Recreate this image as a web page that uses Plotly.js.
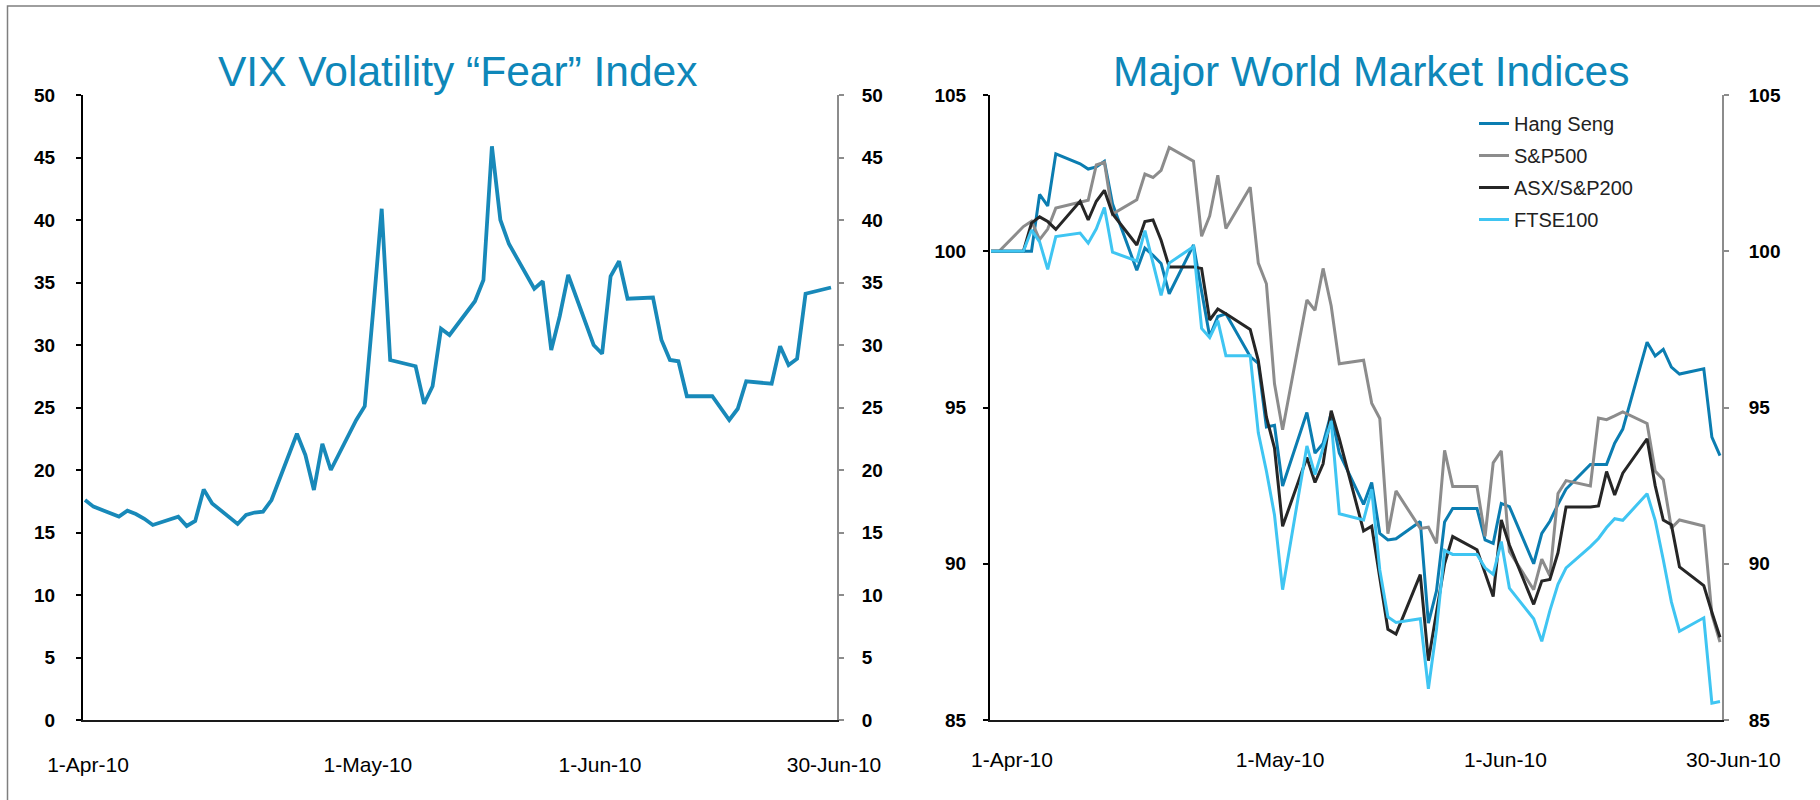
<!DOCTYPE html>
<html>
<head>
<meta charset="utf-8">
<script src="https://cdn.plot.ly/plotly-3.0.1.min.js"></script>
<style>
  html, body { margin: 0; padding: 0; background: #ffffff; }
  #chart { width: 1820px; height: 800px; }
</style>
</head>
<body>
<div id="chart"></div>
<script>
// ---------- DATA ----------
// Trading-day grid of the VIX panel (63 points)
const vixDates = [
  '2010-04-01','2010-04-02','2010-04-05','2010-04-06','2010-04-07','2010-04-08','2010-04-09',
  '2010-04-12','2010-04-13','2010-04-14','2010-04-15','2010-04-16','2010-04-19','2010-04-20',
  '2010-04-21','2010-04-22','2010-04-23','2010-04-26','2010-04-27','2010-04-28','2010-04-29',
  '2010-04-30','2010-05-03','2010-05-04','2010-05-05','2010-05-06','2010-05-07','2010-05-10',
  '2010-05-11','2010-05-12','2010-05-13','2010-05-14','2010-05-17','2010-05-18','2010-05-19',
  '2010-05-20','2010-05-21','2010-05-24','2010-05-25','2010-05-26','2010-05-27','2010-05-28',
  '2010-05-31','2010-06-01','2010-06-02','2010-06-03','2010-06-04','2010-06-07','2010-06-08',
  '2010-06-09','2010-06-10','2010-06-11','2010-06-14','2010-06-15','2010-06-16','2010-06-17',
  '2010-06-18','2010-06-21','2010-06-22','2010-06-23','2010-06-24','2010-06-25','2010-06-28'
];
const vixValues = [
  17.6, 17.07, 16.27, 16.75, 16.48, 16.1, 15.6, 16.27, 15.52, 15.92, 18.45, 17.33, 15.68, 16.4,
  16.6, 16.67, 17.6, 22.9, 21.2, 18.4, 22.1, 20.0, 24.0, 25.1, 32.8, 40.9, 28.8, 28.3,
  25.3, 26.7, 31.3, 30.8, 33.5, 35.2, 45.9, 40.0, 38.1, 34.5, 35.1, 29.6, 32.3, 35.6,
  30.0, 29.3, 35.5, 36.7, 33.7, 33.8, 30.4, 28.8, 28.7, 25.9, 25.9, 25.0, 24.0, 24.9,
  27.1, 26.9, 29.9, 28.4, 28.9, 34.1, 34.6
];

// Weekday grid of the market panel (65 points)
const marketDates = [
  '2010-04-01','2010-04-02','2010-04-05','2010-04-06','2010-04-07','2010-04-08','2010-04-09',
  '2010-04-12','2010-04-13','2010-04-14','2010-04-15','2010-04-16','2010-04-19','2010-04-20',
  '2010-04-21','2010-04-22','2010-04-23','2010-04-26','2010-04-27','2010-04-28','2010-04-29',
  '2010-04-30',
  '2010-05-03','2010-05-04','2010-05-05','2010-05-06','2010-05-07','2010-05-10','2010-05-11',
  '2010-05-12','2010-05-13','2010-05-14','2010-05-17','2010-05-18','2010-05-19','2010-05-20',
  '2010-05-21','2010-05-24','2010-05-25','2010-05-26','2010-05-27','2010-05-28','2010-05-31',
  '2010-06-01','2010-06-02','2010-06-03','2010-06-04','2010-06-07','2010-06-08','2010-06-09',
  '2010-06-10','2010-06-11','2010-06-14','2010-06-15','2010-06-16','2010-06-17','2010-06-18',
  '2010-06-21','2010-06-22','2010-06-23','2010-06-24','2010-06-25','2010-06-28','2010-06-29',
  '2010-06-30'
];
const hangSeng = [
  100, 100, 100, 100, 101.82, 101.45, 103.12, 102.8, 102.63, 102.7, 102.88, 101.52, 99.39, 100.1,
  99.87, 99.61, 98.64, 100.2, 98.72, 97.27, 97.91, 98.0,
  96.63, 96.41, 94.38, 94.43, 92.49, 94.84, 93.54, 93.85, 94.82, 93.54, 91.9, 92.6, 90.97, 90.76,
  90.8, 91.35, 88.1, 89.13, 91.34, 91.77, 91.77,
  90.76, 90.65, 91.93, 91.83, 90.0, 90.97, 91.36, 91.9, 92.39, 93.18, 93.18, 93.18, 93.86, 94.31,
  97.09, 96.65, 96.86, 96.29, 96.07, 96.24, 94.05, 93.46
];
const sp500 = [
  100, 100, 100.79, 100.96, 100.37, 100.71, 101.38, 101.56, 101.63, 102.76, 102.85, 101.19, 101.65, 102.47,
  102.36, 102.59, 103.32, 102.88, 100.48, 101.13, 102.43, 100.73,
  102.05, 99.62, 98.96, 95.76, 94.29, 98.44, 98.11, 99.45, 98.25, 96.40, 96.51, 95.14, 94.65, 90.96,
  92.33, 91.13, 91.17, 90.65, 93.63, 92.47, 92.47,
  90.88, 93.23, 93.61, 90.39, 89.17, 90.15, 89.61, 92.25, 92.66, 92.49, 94.66, 94.61, 94.73, 94.86,
  94.49, 92.97, 92.69, 91.14, 91.40, 91.21, 88.38, 87.49
];
const asx200 = [
  100, 100, 100, 100.9, 101.1, 100.95, 100.7, 101.6, 101.0, 101.6, 101.95, 101.2, 100.2, 100.95,
  101.0, 100.35, 99.5, 99.5, 99.45, 97.8, 98.15, 98.0,
  97.5, 96.5, 94.7, 93.7, 91.2, 93.4, 92.6, 93.2, 94.9, 94.0, 91.05, 91.2, 89.6, 87.9,
  87.75, 89.65, 86.9, 88.4, 90.0, 90.87, 90.45,
  89.7, 88.95, 91.4, 90.6, 88.7, 89.45, 89.5, 90.35, 91.82, 91.82, 91.85, 92.95, 92.2, 92.9,
  94.0, 92.5, 91.4, 91.25, 89.9, 89.3, 88.45, 87.65
];
const ftse100 = [
  100, 100, 100, 100.68, 100.3, 99.42, 100.47, 100.58, 100.26, 100.72, 101.4, 99.97, 99.69, 100.66,
  99.62, 98.59, 99.62, 100.15, 97.53, 97.24, 97.78, 96.66,
  96.66, 94.19, 92.97, 91.56, 89.17, 93.77, 92.85, 93.7, 94.57, 91.6, 91.4, 92.38, 89.8, 88.3,
  88.12, 88.24, 86.0, 87.9, 90.43, 90.3, 90.3,
  89.87, 89.66, 90.71, 89.22, 88.24, 87.52, 88.5, 89.34, 89.87, 90.55, 90.81, 91.16, 91.44, 91.39,
  92.24, 91.39, 90.13, 88.78, 87.84, 88.27, 85.54, 85.59
];

const seriesNames = ['Hang Seng', 'S&P500', 'ASX/S&P200', 'FTSE100'];
const titles = ['VIX Volatility \u201cFear\u201d Index', 'Major World Market Indices'];
const xTickLabels = ['1-Apr-10', '1-May-10', '1-Jun-10', '30-Jun-10'];
const vixTickAt = ['2010-04-01 08:30', '2010-05-04 09:00', '2010-05-31 18:00', '2010-06-28 08:30'];
const mktTickAt = ['2010-04-03 14:00', '2010-05-06 16:00', '2010-06-03 11:00', '2010-07-01 14:00'];
const vixTicks = [0, 5, 10, 15, 20, 25, 30, 35, 40, 45, 50];
const mktTicks = [85, 90, 95, 100, 105];

// ---------- STYLE ----------
const FONT = 'Liberation Sans, Arial, Helvetica, sans-serif';
const TITLE_BLUE = '#0e87b9';
const colors = {
  vix: '#1889b9', hs: '#0b7db1', sp: '#8c8c8c', asx: '#262626', ftse: '#3fc5f2'
};
const W = 1820, H = 800;
const px = v => v / W;
const py = v => (H - v) / H;

const yDomain = [py(720), py(95)];
const leftDomain = [px(83), px(837)];
const rightDomain = [px(990), px(1722)];
const rightLabelDomain = [px(990), px(1750)];

const yTickFont = { family: FONT, size: 19, color: '#000', weight: 'bold' };
const xTickFont = { family: FONT, size: 21, color: '#000' };

function yLeft(range, vals, anchor, standoff) {
  return {
    domain: yDomain, range: range, tickmode: 'array', tickvals: vals,
    ticks: 'outside', ticklen: 5, tickwidth: 2, tickcolor: '#000',
    showline: true, linecolor: '#000', linewidth: 2,
    showgrid: false, zeroline: false, tickfont: yTickFont,
    anchor: anchor, side: 'left', ticklabelstandoff: standoff, fixedrange: true
  };
}
function yRight(range, vals, anchor, overlay, standoff) {
  return {
    domain: yDomain, range: range, tickmode: 'array', tickvals: vals,
    ticks: 'outside', ticklen: 5, tickwidth: 2, tickcolor: '#8c8c8c',
    showline: true, linecolor: '#8c8c8c', linewidth: 2,
    showgrid: false, zeroline: false, tickfont: yTickFont,
    anchor: anchor, side: 'right', overlaying: overlay, ticklabelstandoff: standoff, fixedrange: true
  };
}
function xAxis(domain, range, tickAt, anchor, showLine, showLabels) {
  return {
    type: 'date', domain: domain, range: range, anchor: anchor,
    tickmode: 'array', tickvals: tickAt, ticktext: xTickLabels,
    ticks: '', showline: showLine, linecolor: '#1a1a1a', linewidth: 2,
    showticklabels: showLabels,
    showgrid: false, zeroline: false, tickfont: xTickFont,
    ticklabelstandoff: 25, fixedrange: true
  };
}

const traces = [
  { x: vixDates, y: vixValues, type: 'scatter', mode: 'lines', name: 'VIX',
    xaxis: 'x', yaxis: 'y', showlegend: false,
    line: { color: colors.vix, width: 3.8 } },
  { x: marketDates, y: hangSeng, type: 'scatter', mode: 'lines', name: seriesNames[0],
    xaxis: 'x2', yaxis: 'y2', legendgroup: 'g1', line: { color: colors.hs, width: 3 } },
  { x: marketDates, y: sp500, type: 'scatter', mode: 'lines', name: seriesNames[1],
    xaxis: 'x2', yaxis: 'y2', legendgroup: 'g2', line: { color: colors.sp, width: 3 } },
  { x: marketDates, y: asx200, type: 'scatter', mode: 'lines', name: seriesNames[2],
    xaxis: 'x2', yaxis: 'y2', legendgroup: 'g3', line: { color: colors.asx, width: 3 } },
  { x: marketDates, y: ftse100, type: 'scatter', mode: 'lines', name: seriesNames[3],
    xaxis: 'x2', yaxis: 'y2', legendgroup: 'g4', line: { color: colors.ftse, width: 3 } }
];

const layout = {
  width: W, height: H,
  margin: { l: 0, r: 0, t: 0, b: 0 },
  paper_bgcolor: '#ffffff', plot_bgcolor: 'rgba(0,0,0,0)',
  font: { family: FONT },
  xaxis: xAxis(leftDomain, ['2010-03-31 18:20', '2010-06-28 17:00'], vixTickAt, 'y', true, true),
  xaxis2: xAxis(rightDomain, ['2010-03-31 21:00', '2010-06-30 06:00'], mktTickAt, 'y2', true, false),
  // label-only axis with the same scale as xaxis2, stretched so the last label can sit past the frame edge
  xaxis3: xAxis(rightLabelDomain, ['2010-03-31 21:00', '2010-07-03 15:20'], mktTickAt, 'y2', false, true),
  yaxis: yLeft([0, 50], vixTicks, 'x', 17),
  yaxis3: yRight([0, 50], vixTicks, 'x', 'y', 14),
  yaxis2: yLeft([85, 105], mktTicks, 'x2', 13),
  yaxis4: yRight([85, 105], mktTicks, 'x2', 'y2', 16),
  showlegend: true,
  legend: {
    x: px(1474), xanchor: 'left', y: py(104), yanchor: 'top',
    bgcolor: 'rgba(0,0,0,0)', borderwidth: 0,
    font: { family: FONT, size: 20, color: '#222' },
    tracegroupgap: 3, itemwidth: 30
  },
  annotations: [
    { text: titles[0], xref: 'paper', yref: 'paper', x: px(458), y: py(72),
      xanchor: 'center', yanchor: 'middle', showarrow: false,
      font: { family: FONT, size: 42.5, color: TITLE_BLUE } },
    { text: titles[1], xref: 'paper', yref: 'paper', x: px(1371), y: py(72),
      xanchor: 'center', yanchor: 'middle', showarrow: false,
      font: { family: FONT, size: 42.5, color: TITLE_BLUE } }
  ],
  shapes: [
    { type: 'rect', xref: 'paper', yref: 'paper', x0: px(7.5), x1: 1.05, y0: -0.05, y1: py(6),
      line: { color: '#7f7f7f', width: 1.5 }, fillcolor: 'rgba(0,0,0,0)', layer: 'below' }
  ]
};

// empty helper traces so the right-side and label-only axes are drawn
traces.push({ x: [vixDates[0]], y: [null], xaxis: 'x', yaxis: 'y3', type: 'scatter', mode: 'lines',
  showlegend: false, hoverinfo: 'skip' });
traces.push({ x: [marketDates[0]], y: [null], xaxis: 'x2', yaxis: 'y4', type: 'scatter', mode: 'lines',
  showlegend: false, hoverinfo: 'skip' });
traces.push({ x: [marketDates[0]], y: [null], xaxis: 'x3', yaxis: 'y2', type: 'scatter', mode: 'lines',
  showlegend: false, hoverinfo: 'skip' });

Plotly.newPlot('chart', traces, layout, { staticPlot: true, displayModeBar: false });
</script>
</body>
</html>
